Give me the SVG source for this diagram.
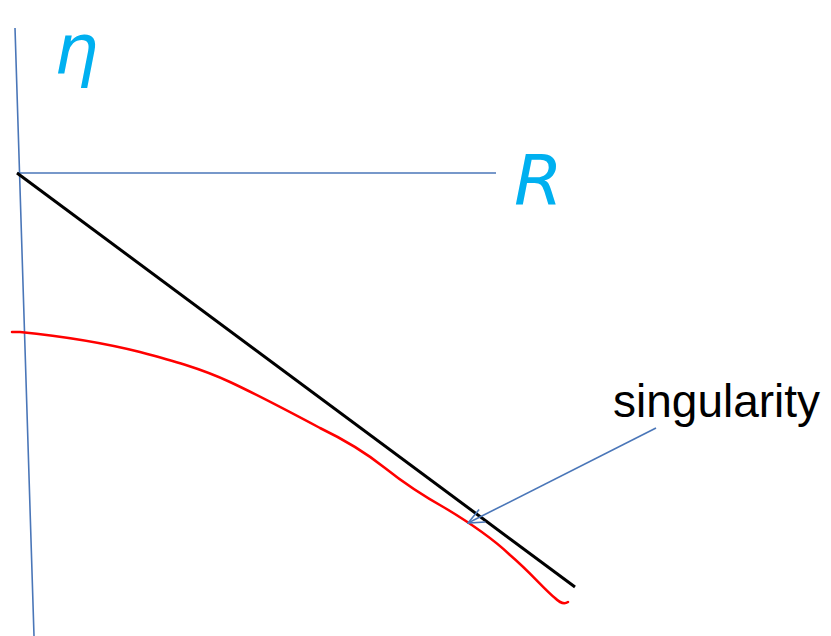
<svg xmlns="http://www.w3.org/2000/svg" width="831" height="636" viewBox="0 0 831 636">
<style>
.axis{stroke:#4A76B8;stroke-width:1.6;fill:none}
.hand{fill:#00B0F0;font-family:"DejaVu Sans",sans-serif;font-style:italic}
.lbl{fill:#000;font-family:"Liberation Sans",Arial,sans-serif;font-size:46px}
</style>
<defs>
<marker id="open" markerWidth="18" markerHeight="18" refX="17" refY="9" orient="auto" markerUnits="userSpaceOnUse">
<path d="M1,2 L17,9 L1,16" fill="none" stroke="#4A76B8" stroke-width="1.6"/>
</marker>
</defs>
<rect width="831" height="636" fill="#fff"/>
<g id="connectors">
<line class="axis" x1="15" y1="28" x2="34" y2="636"/>
<line class="axis" x1="17" y1="173" x2="496" y2="173"/>
<line x1="17" y1="173" x2="575" y2="587" stroke="#000" stroke-width="3"/>
<path d="M12,332 L20,332 C60,336 100,342 140,352 C170,360 200,368 230,382 C260,396 290,412 320,428 C345,440 365,452 385,468 C400,480 420,494 445,508 C465,520 490,536 510,555 C530,572 545,590 555,598 C560,603 565,604 568,602" fill="none" stroke="#F00" stroke-width="2.5" stroke-linecap="round"/>
<line class="axis" x1="656" y1="428" x2="468" y2="523" marker-end="url(#open)"/>
</g>
<g id="eta"><text class="hand" x="54" y="74" font-size="70">η</text></g>
<g id="R"><text class="hand" x="514" y="204" font-size="70">R</text></g>
<g id="singularity"><text class="lbl" x="613" y="417">singularity</text></g>
</svg>
